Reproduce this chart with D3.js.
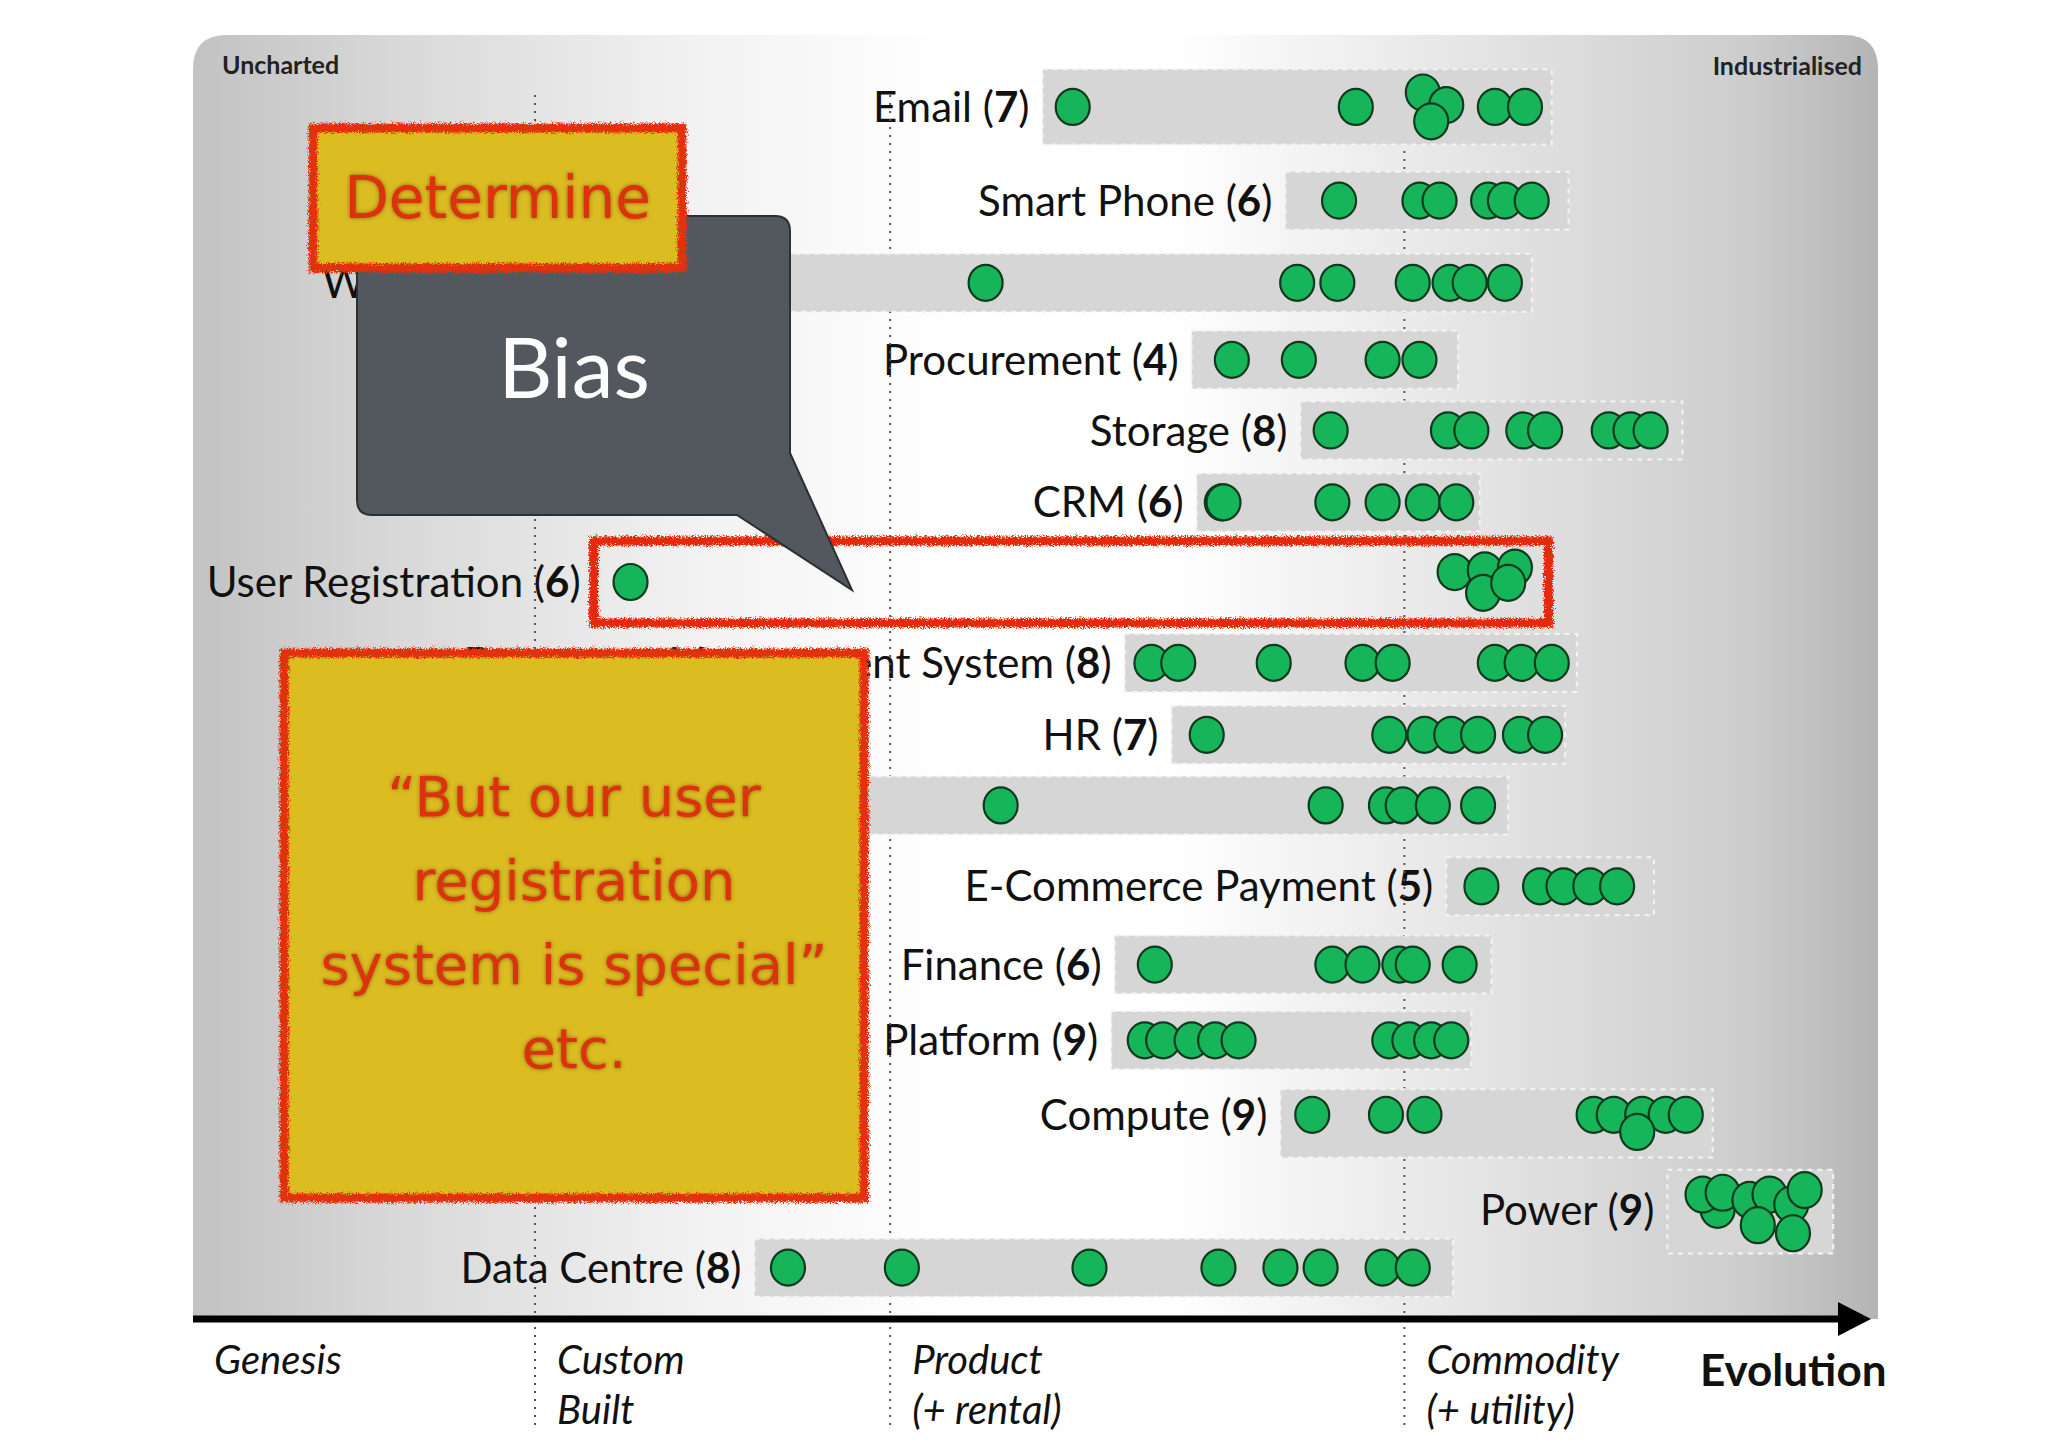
<!DOCTYPE html>
<html>
<head>
<meta charset="utf-8">
<script src="https://cdn.jsdelivr.net/npm/d3@7"></script>
<style>
  body { margin: 0; background: #fff; }
  svg { font-family: Lato, "Open Sans", sans-serif; }
</style>
</head>
<body>
<div id="chart"></div>
<script>
// rows of the value chain, top to bottom
var rowNames = ["Email", "Smart Phone", "Website", "Procurement", "Storage", "CRM",
  "User Registration", "Document Management System", "HR", "", "E-Commerce Payment",
  "Finance", "Platform", "Compute", "Power", "Data Centre"];
var rowCounts = [7, 6, 7, 4, 8, 6, 6, 8, 7, 6, 5, 6, 9, 9, 9, 8];
var rowVisibility = [0.944, 0.871, 0.807, 0.747, 0.692, 0.636, 0.574, 0.511, 0.455,
  0.400, 0.337, 0.276, 0.217, 0.159, 0.085, 0.040];
var barStart = [50.9, 65.4, 21.2, 59.8, 66.3, 60.1, 24.1, 55.8, 58.6, 35.0, 75.0, 55.2, 55.0, 65.1, 88.2, 33.7];
var barEnd   = [81.3, 82.3, 80.1, 75.7, 89.1, 77.0, 81.1, 82.8, 82.1, 78.7, 87.4, 77.7, 76.5, 90.9, 98.1, 75.4];
var highlightRow = 6;

// evolution of each company's instance of the component
var dotValues = [
  [52.7, 69.6, 73.6, 75.0, 74.1, 77.9, 79.7],
  [68.6, 73.4, 74.6, 77.5, 78.5, 80.1],
  [47.5, 66.1, 68.5, 73.0, 75.2, 76.4, 78.5],
  [62.2, 66.2, 71.2, 73.4],
  [68.1, 75.1, 76.5, 79.6, 80.9, 84.7, 86.0, 87.2],
  [61.6, 61.7, 68.2, 71.2, 73.6, 75.6],
  [26.3, 75.5, 77.3, 79.1, 77.2, 78.7],
  [57.4, 59.0, 64.7, 70.0, 71.8, 77.9, 79.5, 81.3],
  [60.7, 71.6, 73.7, 75.3, 76.9, 79.4, 80.9],
  [48.4, 67.8, 71.4, 72.4, 74.2, 76.9],
  [77.1, 80.6, 82.0, 83.6, 85.2],
  [57.6, 68.2, 70.0, 72.2, 73.0, 75.8],
  [57.0, 58.1, 59.8, 61.2, 62.6, 71.6, 72.8, 74.1, 75.3],
  [67.0, 71.4, 73.7, 83.8, 85.0, 86.7, 88.1, 89.3, 86.4],
  [91.2, 90.3, 91.5, 93.1, 94.3, 95.6, 96.4, 93.6, 95.7],
  [35.7, 42.5, 53.7, 61.4, 65.1, 67.5, 71.2, 73.0]
];
// vertical stacking of overlapping dots (in dot radii)
var dotStack = [
  [0, 0, -0.8, -0.1, 0.8, 0, 0],
  [], [], [], [], [],
  [0, -0.55, -0.65, -0.8, 0.6, 0.05],
  [], [], [], [], [], [],
  [0, 0, 0, 0, 0, 0, 0, 0, 0.95],
  [0, -0.85, -0.95, -0.55, -0.85, -0.3, -1.1, 0.85, 1.3],
  []
];

var stageStart = [0, 20.6, 41.8, 72.5];
var stageLabels = [["Genesis"], ["Custom", "Built"], ["Product", "(+ rental)"], ["Commodity", "(+ utility)"]];

var width = 2048, height = 1447;
var r = 18;

var svg = d3.select("#chart").append("svg")
  .attr("width", width)
  .attr("height", height);

var x = d3.scaleLinear().domain([0, 100]).range([190, 1865]);
var y = d3.scaleLinear().domain([0, 1]).range([1319, 35]);

var defs = svg.append("defs");
var grad = defs.append("linearGradient").attr("id", "panelGrad");
[[0, "#c2c2c2"], [0.12, "#d8d8d8"], [0.3, "#f2f2f2"], [0.45, "#ffffff"], [0.58, "#ffffff"],
 [0.75, "#e6e6e6"], [0.92, "#cdcdcd"], [1, "#b4b4b4"]].forEach(function(s) {
  grad.append("stop").attr("offset", s[0]).attr("stop-color", s[1]);
});

var rough = defs.append("filter").attr("id", "rough")
  .attr("x", "-5%").attr("y", "-10%").attr("width", "110%").attr("height", "120%");
rough.append("feTurbulence").attr("type", "fractalNoise").attr("baseFrequency", 1.6)
  .attr("numOctaves", 2).attr("result", "noise");
rough.append("feDisplacementMap").attr("in", "SourceGraphic").attr("in2", "noise")
  .attr("scale", 9).attr("xChannelSelector", "R").attr("yChannelSelector", "G");

var glow = defs.append("filter").attr("id", "glow").attr("x", "-10%").attr("y", "-30%")
  .attr("width", "120%").attr("height", "160%");
glow.append("feGaussianBlur").attr("in", "SourceAlpha").attr("stdDeviation", 2.2).attr("result", "b");
glow.append("feFlood").attr("flood-color", "#6a3a00").attr("flood-opacity", 0.7);
glow.append("feComposite").attr("in2", "b").attr("operator", "in").attr("result", "s");
var gm = glow.append("feMerge");
gm.append("feMergeNode").attr("in", "s");
gm.append("feMergeNode").attr("in", "SourceGraphic");

// panel with rounded top corners
var px0 = 193, px1 = 1878, py0 = 35, py1 = 1319, pr = 34;
svg.append("path")
  .attr("d", "M" + px0 + "," + py1 + " V" + (py0 + pr) + " Q" + px0 + "," + py0 + " " + (px0 + pr) + "," + py0 +
    " H" + (px1 - pr) + " Q" + px1 + "," + py0 + " " + px1 + "," + (py0 + pr) + " V" + py1 + " Z")
  .attr("fill", "url(#panelGrad)");

svg.append("text").attr("x", 222).attr("y", 74).attr("font-size", 25).attr("font-weight", "bold")
  .attr("fill", "#222").text("Uncharted");
svg.append("text").attr("x", 1862).attr("y", 75).attr("font-size", 25).attr("font-weight", "bold")
  .attr("text-anchor", "end").attr("fill", "#222").text("Industrialised");

var rows = rowNames.map(function(name, i) {
  var stack = dotStack[i];
  var cy = y(rowVisibility[i]);
  var dots = dotValues[i].map(function(v, k) {
    return { cx: x(v), cy: cy + (stack[k] || 0) * r };
  });
  return { name: name, count: rowCounts[i], cy: cy, start: barStart[i], end: barEnd[i], dots: dots, i: i };
});

// row labels
var labels = svg.append("g").selectAll("text")
  .data(rows.filter(function(d) { return d.name !== ""; }))
  .enter().append("text")
  .attr("x", function(d) { return x(d.start) - 13; })
  .attr("y", function(d) { return d.cy; })
  .attr("dy", "0.36em")
  .attr("text-anchor", "end")
  .attr("font-size", 42)
  .attr("fill", "#111");
labels.append("tspan").text(function(d) { return d.name + " ("; });
labels.append("tspan").attr("font-weight", "bold").text(function(d) { return d.count; });
labels.append("tspan").text(")");

// stage dividers
svg.append("g").selectAll("line")
  .data(stageStart.slice(1))
  .enter().append("line")
  .attr("x1", function(d) { return x(d); })
  .attr("x2", function(d) { return x(d); })
  .attr("y1", 95).attr("y2", 1425)
  .attr("stroke", "#555").attr("stroke-width", 2)
  .attr("stroke-dasharray", "2,6");

// bars
function rowTop(d) { return d3.min(d.dots, function(p) { return p.cy; }); }
function rowBottom(d) { return d3.max(d.dots, function(p) { return p.cy; }); }
function rowPad(d) { return 29 - 0.2 * (rowBottom(d) - rowTop(d)); }

svg.append("g").selectAll("rect")
  .data(rows.filter(function(d) { return d.i !== highlightRow; }))
  .enter().append("rect")
  .attr("x", function(d) { return x(d.start); })
  .attr("width", function(d) { return x(d.end) - x(d.start); })
  .attr("y", function(d) { return rowTop(d) - rowPad(d); })
  .attr("height", function(d) { return rowBottom(d) - rowTop(d) + 2 * rowPad(d); })
  .attr("fill", "#d6d6d6")
  .attr("stroke", "#f4f4f4").attr("stroke-width", 2).attr("stroke-dasharray", "5,5");

// dots
rows.forEach(function(row) {
  svg.append("g").selectAll("ellipse")
    .data(row.dots)
    .enter().append("ellipse")
    .attr("cx", function(d) { return d.cx; })
    .attr("cy", function(d) { return d.cy; })
    .attr("rx", r - 1).attr("ry", r)
    .attr("fill", "#17b55a")
    .attr("stroke", "#103a1e").attr("stroke-width", 2.2);
});

// evolution axis
svg.append("line").attr("x1", 193).attr("x2", 1845).attr("y1", 1319).attr("y2", 1319)
  .attr("stroke", "#000").attr("stroke-width", 7);
svg.append("path").attr("d", "M1838,1302 L1871,1319 L1838,1336 Z").attr("fill", "#000");

var stageG = svg.append("g").selectAll("text")
  .data(stageLabels)
  .enter().append("text")
  .attr("x", function(d, i) { return i === 0 ? 214 : x(stageStart[i]) + 22; })
  .attr("y", 1374)
  .attr("font-style", "italic")
  .attr("font-size", 40)
  .attr("fill", "#111");
stageG.selectAll("tspan")
  .data(function(d) { return d; })
  .enter().append("tspan")
  .attr("x", function() { return d3.select(this.parentNode).attr("x"); })
  .attr("dy", function(d, k) { return k === 0 ? 0 : 50; })
  .text(function(d) { return d; });

svg.append("text").attr("x", 1700).attr("y", 1386).attr("font-size", 44).attr("font-weight", "bold")
  .attr("fill", "#111").text("Evolution");

// red marker around User Registration
var hr = rows[highlightRow];
svg.append("rect")
  .attr("x", x(hr.start)).attr("width", x(hr.end) - x(hr.start))
  .attr("y", hr.cy - 41).attr("height", 82)
  .attr("fill", "none").attr("stroke", "#e42a0c").attr("stroke-width", 9)
  .attr("filter", "url(#rough)");

// callout
var callout = svg.append("g");
callout.append("path")
  .attr("d", "M372,216 H775 Q790,216 790,231 V453 L852,590 L737,515 H372 Q357,515 357,500 V231 Q357,216 372,216 Z")
  .attr("fill", "#53575e").attr("stroke", "#2c2f33").attr("stroke-width", 2);
callout.append("text").attr("x", 574).attr("y", 398).attr("text-anchor", "middle")
  .attr("font-size", 84).attr("fill", "#fff").text("Bias");

// sticky notes
function note(x0, y0, w, h, lines, y1, step, size) {
  var g = svg.append("g");
  g.append("rect").attr("x", x0).attr("y", y0).attr("width", w).attr("height", h)
    .attr("fill", "#dbbd23").attr("stroke", "#e23210").attr("stroke-width", 9)
    .attr("filter", "url(#rough)");
  g.selectAll("text").data(lines).enter().append("text")
    .attr("x", x0 + w / 2)
    .attr("y", function(d, k) { return y1 + k * step; })
    .attr("text-anchor", "middle")
    .style("font-family", "'Comic Sans MS', 'DejaVu Sans', sans-serif")
    .attr("font-size", size)
    .attr("fill", "#dc3010")
    .attr("filter", "url(#glow)")
    .text(function(d) { return d; });
}
note(313, 128, 369, 140, ["Determine"], 218, 0, 58);
note(284, 653, 580, 545, ["\u201cBut our user", "registration", "system is special\u201d", "etc."], 816, 84, 56);
</script>
</body>
</html>
